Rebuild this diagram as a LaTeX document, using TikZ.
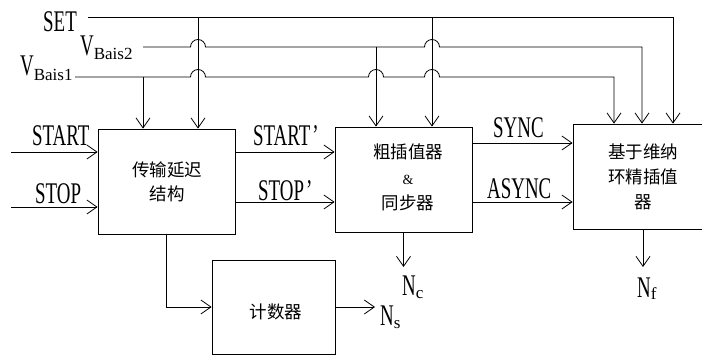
\documentclass[tikz,border=0pt]{standalone}
\usepackage{fontspec}
\setmainfont{Liberation Serif}
\newfontfamily\condfont[FakeStretch=0.63]{Liberation Serif}
\newfontfamily\cjk{Noto Sans CJK SC}
\usetikzlibrary{arrows.meta}
\tikzset{
  ln/.style={line width=0.8pt},
  arr/.style={ln, -{Straight Barb[length=10pt,width=14pt]}},
  blk/.style={draw, line width=0.8pt, rectangle, inner sep=0pt},
  lat/.style={font=\condfont\fontsize{30}{30}\selectfont, inner sep=0pt, anchor=base west},
  zh/.style={font=\cjk\fontsize{17.5}{24}\selectfont, align=center, inner sep=0pt},
}
\newcommand{\subtx}[2]{\raisebox{-#1}{\rmfamily\fontsize{17}{17}\selectfont #2}}
\begin{document}
\begin{tikzpicture}[x=1pt,y=-1pt]
\useasboundingbox (0,0) rectangle (702,356);
\clip (0,0) rectangle (702,356);
% blocks
\node[blk, minimum width=137pt, minimum height=105pt] (b1) at (166.5,181.5) {};
\node[blk, minimum width=137pt, minimum height=105pt] (b2) at (403.5,179.5) {};
\node[blk, minimum width=140pt, minimum height=105pt] (b3) at (643,176.5) {};
\node[blk, minimum width=123pt, minimum height=94pt] (b4) at (273.5,307) {};
% block texts
\node[zh] (t1) at (167,181.5) {传输延迟\\结构};
\node[zh, font=\cjk\fontsize{17.5}{25.5}\selectfont] (t2) at (408,177.5) {粗插值器\\{\rmfamily\fontsize{14}{14}\selectfont\&}\\同步器};
\node[zh, font=\cjk\fontsize{17.5}{25}\selectfont] (t3) at (643,177) {基于维纳\\环精插值\\器};
\node[zh] (t4) at (276,312) {计数器};
% labels
\node[lat] (lset) at (43,31) {SET};
\node[lat] (lv2) at (80,55) {V\subtx{5pt}{Bais2}};
\node[lat] (lv1) at (20,75) {V\subtx{5pt}{Bais1}};
\node[lat] (lstart) at (32,145) {START};
\node[lat] (lstop) at (35,203) {STOP};
\node[lat] (lstartp) at (253,145) {START\kern2pt’};
\node[lat] (lstopp) at (258,200) {STOP\kern2pt’};
\node[lat] (lsync) at (493,137) {SYNC};
\node[lat] (lasync) at (487,198) {ASYNC};
\node[lat] (lnc) at (402,295) {N\subtx{3pt}{c}};
\node[lat] (lns) at (380,325) {N\subtx{3pt}{s}};
\node[lat] (lnf) at (637,297) {N\subtx{2pt}{f}};
% coordinates
\coordinate (setS) at (88,17.5);
\coordinate (setE) at (673,17.5);
\coordinate (j1) at (198,17.5);
\coordinate (j2) at (432,17.5);
\coordinate (v2S) at (143,47);
\coordinate (v2E) at (642,47);
\coordinate (v2j) at (376,47);
\coordinate (v1S) at (75,77);
\coordinate (v1E) at (614,77);
\coordinate (v1j) at (143,77);
\coordinate (stA) at (11,152);
\coordinate (spA) at (11,207);
\coordinate (yS) at (0,152);
\coordinate (yP) at (0,202);
\coordinate (ySy) at (0,143);
\coordinate (yAs) at (0,202);
\coordinate (ns) at (375,307);
\coordinate (nc) at (403.5,267);
\coordinate (nf) at (643,267);
% control lines
\draw[arr] (setS) -- (setE) -- (setE |- b3.north);
\draw[arr] (j1) -- (j1 |- b1.north);
\draw[arr] (j2) -- (j2 |- b2.north);
\draw[arr] (v2S) -- (190.5,47) arc[start angle=180,end angle=0,radius=7.5pt]
  -- (424.5,47) arc[start angle=180,end angle=0,radius=7.5pt]
  -- (v2E) -- (v2E |- b3.north);
\draw[arr] (v2j) -- (v2j |- b2.north);
\draw[arr] (v1S) -- (190.5,77) arc[start angle=180,end angle=0,radius=7.5pt]
  -- (368.5,77) arc[start angle=180,end angle=0,radius=7.5pt]
  -- (424.5,77) arc[start angle=180,end angle=0,radius=7.5pt]
  -- (v1E) -- (v1E |- b3.north);
\draw[arr] (v1j) -- (v1j |- b1.north);
% data lines
\draw[arr] (stA) -- (stA -| b1.west);
\draw[arr] (spA) -- (spA -| b1.west);
\draw[arr] (b1.east |- yS) -- (b2.west |- yS);
\draw[arr] (b1.east |- yP) -- (b2.west |- yP);
\draw[arr] (b2.east |- ySy) -- (b3.west |- ySy);
\draw[arr] (b2.east |- yAs) -- (b3.west |- yAs);
\draw[arr] (b1.south) |- (b4.west);
\draw[arr] (b4.east) -- (ns);
\draw[arr] (b2.south) -- (nc);
\draw[arr] (b3.south) -- (nf);
\end{tikzpicture}
\end{document}
